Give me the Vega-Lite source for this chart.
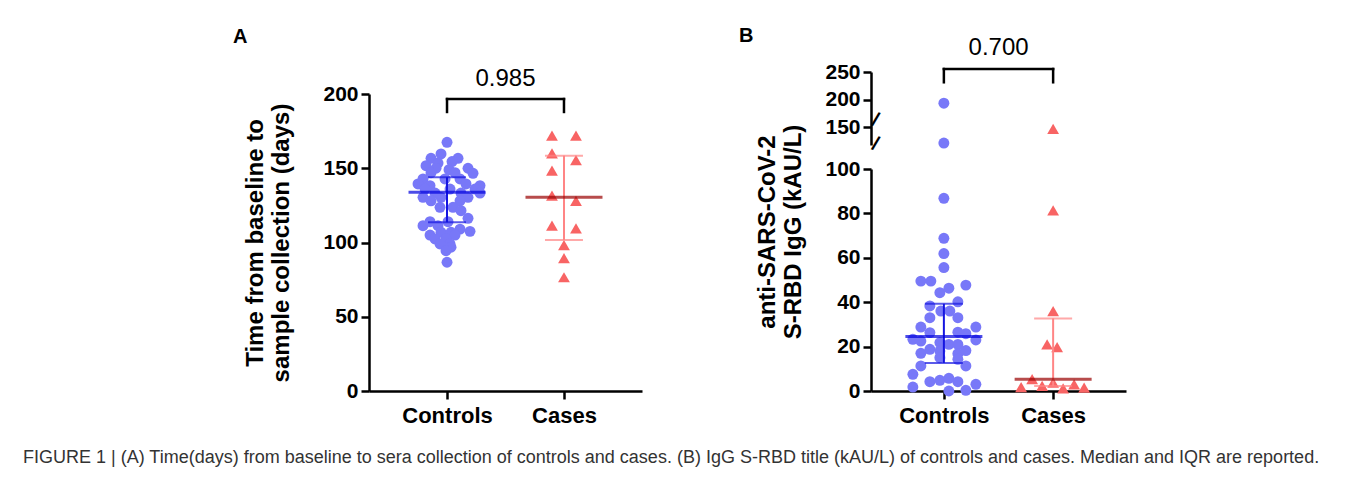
{
  "$schema": "https://vega.github.io/schema/vega-lite/v6.json",
  "background": "white",
  "padding": {"left": 22, "top": 25, "right": 5, "bottom": 5},
  "title": {
    "text": "FIGURE 1 | (A) Time(days) from baseline to sera collection of controls and cases. (B) IgG S-RBD title (kAU/L) of controls and cases. Median and IQR are reported.",
    "orient": "bottom", "anchor": "start", "dx": -210, "offset": 23,
    "fontSize": 18, "fontWeight": "normal", "font": "Liberation Sans", "color": "#333333", "baseline": "top"
  },
  "config": {
    "view": {"stroke": null},
    "font": "Liberation Sans",
    "axis": {
      "domainColor": "black", "domainWidth": 2.5, "tickColor": "black", "tickWidth": 2.5, "tickSize": 8,
      "labelFont": "Liberation Sans", "labelFontWeight": "bold", "labelFontSize": 21, "labelColor": "black", "labelPadding": 3, "labelOverlap": false,
      "titleFont": "Liberation Sans", "titleFontWeight": "bold", "titleFontSize": 24, "titleColor": "black", "grid": false
    },
    "axisX": {"labelAngle": 0, "labelFontSize": 22, "labelPadding": 6, "title": null}
  },
  "datasets": {
    "ptsA": [
      {"group": "Controls", "value": 167.5, "jitter": 0},
      {"group": "Controls", "value": 159.6, "jitter": -0.6},
      {"group": "Controls", "value": 156.7, "jitter": -1.6},
      {"group": "Controls", "value": 156.7, "jitter": 1.1},
      {"group": "Controls", "value": 154.5, "jitter": 0.5},
      {"group": "Controls", "value": 153.5, "jitter": -0.9},
      {"group": "Controls", "value": 151.7, "jitter": -2.1},
      {"group": "Controls", "value": 150, "jitter": -1.1},
      {"group": "Controls", "value": 150, "jitter": 2.1},
      {"group": "Controls", "value": 149, "jitter": 0.2},
      {"group": "Controls", "value": 147, "jitter": -1.6},
      {"group": "Controls", "value": 147, "jitter": 0.8},
      {"group": "Controls", "value": 146.6, "jitter": 2.6},
      {"group": "Controls", "value": 142.8, "jitter": -2.4},
      {"group": "Controls", "value": 142.8, "jitter": -0.2},
      {"group": "Controls", "value": 142.8, "jitter": 1.3},
      {"group": "Controls", "value": 139.4, "jitter": -2.9},
      {"group": "Controls", "value": 139.4, "jitter": 1.9},
      {"group": "Controls", "value": 138.3, "jitter": -1.7},
      {"group": "Controls", "value": 138.3, "jitter": 3.3},
      {"group": "Controls", "value": 136, "jitter": -2.2},
      {"group": "Controls", "value": 136, "jitter": 0.3},
      {"group": "Controls", "value": 136, "jitter": 2.8},
      {"group": "Controls", "value": 133.3, "jitter": -1.2},
      {"group": "Controls", "value": 133.3, "jitter": 1.4},
      {"group": "Controls", "value": 133.3, "jitter": 3.3},
      {"group": "Controls", "value": 130.4, "jitter": -2.4},
      {"group": "Controls", "value": 130.4, "jitter": -0.6},
      {"group": "Controls", "value": 130.4, "jitter": 2.1},
      {"group": "Controls", "value": 128.1, "jitter": -1.6},
      {"group": "Controls", "value": 128.1, "jitter": 1.3},
      {"group": "Controls", "value": 123.7, "jitter": -0.7},
      {"group": "Controls", "value": 123.7, "jitter": 0.6},
      {"group": "Controls", "value": 121.4, "jitter": 1.4},
      {"group": "Controls", "value": 116.3, "jitter": 2.1},
      {"group": "Controls", "value": 114, "jitter": -1.7},
      {"group": "Controls", "value": 114, "jitter": 0.1},
      {"group": "Controls", "value": 111.3, "jitter": -2.4},
      {"group": "Controls", "value": 111.3, "jitter": -0.9},
      {"group": "Controls", "value": 109, "jitter": 1.3},
      {"group": "Controls", "value": 107.5, "jitter": 2.3},
      {"group": "Controls", "value": 106.9, "jitter": -0.6},
      {"group": "Controls", "value": 106.9, "jitter": 0.4},
      {"group": "Controls", "value": 105, "jitter": -1.7},
      {"group": "Controls", "value": 105, "jitter": 0.8},
      {"group": "Controls", "value": 102.4, "jitter": -1.2},
      {"group": "Controls", "value": 102.4, "jitter": -0.1},
      {"group": "Controls", "value": 99, "jitter": 0.3},
      {"group": "Controls", "value": 99, "jitter": -0.7},
      {"group": "Controls", "value": 96.8, "jitter": 0.4},
      {"group": "Controls", "value": 94.5, "jitter": -0.1},
      {"group": "Controls", "value": 86.7, "jitter": 0},
      {"group": "Cases", "value": 172, "jitter": -1.2},
      {"group": "Cases", "value": 172, "jitter": 1.2},
      {"group": "Cases", "value": 160, "jitter": -1.2},
      {"group": "Cases", "value": 155.5, "jitter": 1.2},
      {"group": "Cases", "value": 148.4, "jitter": -1.2},
      {"group": "Cases", "value": 131.5, "jitter": -1.2},
      {"group": "Cases", "value": 128.1, "jitter": 1.2},
      {"group": "Cases", "value": 111.3, "jitter": -1.2},
      {"group": "Cases", "value": 109.5, "jitter": 1.2},
      {"group": "Cases", "value": 98.3, "jitter": 0},
      {"group": "Cases", "value": 89.4, "jitter": 0},
      {"group": "Cases", "value": 76.6, "jitter": 0}
    ],
    "statsA": [
      {"group": "Controls", "median": 133.8, "q1": 113.6, "q3": 144},
      {"group": "Cases", "median": 130.4, "q1": 101.7, "q3": 158.5}
    ],
    "ptsB": [
      {"group": "Controls", "value": 193.6, "jitter": 0},
      {"group": "Controls", "value": 121.5, "jitter": 0},
      {"group": "Controls", "value": 86.8, "jitter": 0},
      {"group": "Controls", "value": 68.8, "jitter": 0},
      {"group": "Controls", "value": 61.9, "jitter": 0},
      {"group": "Controls", "value": 55.6, "jitter": 0},
      {"group": "Controls", "value": 49.5, "jitter": -2.3},
      {"group": "Controls", "value": 49.5, "jitter": -1.3},
      {"group": "Controls", "value": 47.7, "jitter": 2.2},
      {"group": "Controls", "value": 46.3, "jitter": 0.5},
      {"group": "Controls", "value": 44.3, "jitter": -0.4},
      {"group": "Controls", "value": 40.2, "jitter": 1.4},
      {"group": "Controls", "value": 38.3, "jitter": -1.4},
      {"group": "Controls", "value": 36, "jitter": -0.3},
      {"group": "Controls", "value": 36, "jitter": 0.6},
      {"group": "Controls", "value": 33, "jitter": -1.4},
      {"group": "Controls", "value": 33, "jitter": 1.4},
      {"group": "Controls", "value": 28.8, "jitter": -2.3},
      {"group": "Controls", "value": 28.8, "jitter": 3.2},
      {"group": "Controls", "value": 26.3, "jitter": -1.4},
      {"group": "Controls", "value": 26.5, "jitter": 1.4},
      {"group": "Controls", "value": 25.8, "jitter": 2.2},
      {"group": "Controls", "value": 23.3, "jitter": -3.1},
      {"group": "Controls", "value": 22.5, "jitter": -2.3},
      {"group": "Controls", "value": 21.8, "jitter": -0.4},
      {"group": "Controls", "value": 21, "jitter": 0.5},
      {"group": "Controls", "value": 21, "jitter": 1.4},
      {"group": "Controls", "value": 23, "jitter": 3.2},
      {"group": "Controls", "value": 18.8, "jitter": -1.4},
      {"group": "Controls", "value": 18, "jitter": -0.4},
      {"group": "Controls", "value": 16.8, "jitter": 1.4},
      {"group": "Controls", "value": 18.2, "jitter": 2.2},
      {"group": "Controls", "value": 17, "jitter": -2.3},
      {"group": "Controls", "value": 15, "jitter": -0.4},
      {"group": "Controls", "value": 14.3, "jitter": 1.4},
      {"group": "Controls", "value": 11.3, "jitter": -2.3},
      {"group": "Controls", "value": 11.3, "jitter": 2.2},
      {"group": "Controls", "value": 7.5, "jitter": -3.1},
      {"group": "Controls", "value": 4.2, "jitter": -1.4},
      {"group": "Controls", "value": 4.8, "jitter": -0.4},
      {"group": "Controls", "value": 5.7, "jitter": 0.5},
      {"group": "Controls", "value": 4.2, "jitter": 1.4},
      {"group": "Controls", "value": 3, "jitter": 3.2},
      {"group": "Controls", "value": 1.8, "jitter": -3.1},
      {"group": "Controls", "value": 0, "jitter": 0.5},
      {"group": "Controls", "value": 0.3, "jitter": 2.2},
      {"group": "Cases", "value": 147, "jitter": 0},
      {"group": "Cases", "value": 81.4, "jitter": 0},
      {"group": "Cases", "value": 36, "jitter": 0},
      {"group": "Cases", "value": 21, "jitter": -0.6},
      {"group": "Cases", "value": 19.8, "jitter": 0.4},
      {"group": "Cases", "value": 5.3, "jitter": -2.1},
      {"group": "Cases", "value": 1.8, "jitter": -3.2},
      {"group": "Cases", "value": 2.3, "jitter": -1.1},
      {"group": "Cases", "value": 3.8, "jitter": 0},
      {"group": "Cases", "value": 1.2, "jitter": 1},
      {"group": "Cases", "value": 3, "jitter": 2.1},
      {"group": "Cases", "value": 1.5, "jitter": 3.1}
    ],
    "statsB": [
      {"group": "Controls", "median": 24.6, "q1": 12.6, "q3": 39.3},
      {"group": "Cases", "median": 5.3, "q1": 2.2, "q3": 32.7}
    ]
  },
  "spacing": 96,
  "hconcat": [
    {
      "width": 273,
      "height": 319,
      "title": {"text": "A", "anchor": "start", "fontSize": 20, "fontWeight": "bold", "color": "black", "offset": 4, "dx": -11, "baseline": "alphabetic"},
      "layer": [
        {
          "data": {"name": "ptsA"},
          "mark": {"type": "point", "filled": true, "opacity": 1, "strokeWidth": 0},
          "encoding": {
            "x": {"field": "group", "type": "nominal", "scale": {"type": "point", "domain": ["Controls", "Cases"], "padding": 0.667}, "axis": {"title": null}},
            "xOffset": {"field": "jitter", "type": "quantitative", "scale": {"domain": [-4, 4], "range": [-40, 40]}},
            "y": {"field": "value", "type": "quantitative", "scale": {"domain": [0, 200], "range": [319, 22], "nice": false}, "axis": {"values": [0, 50, 100, 150, 200], "tickCount": 20, "labelOverlap": false, "title": ["Time from baseline to", "sample collection (days)"], "titlePadding": 29}},
            "shape": {"field": "group", "type": "nominal", "scale": {"domain": ["Controls", "Cases"], "range": ["circle", "triangle-up"]}, "legend": null},
            "color": {"field": "group", "type": "nominal", "scale": {"domain": ["Controls", "Cases"], "range": ["#7878f8", "#f86464"]}, "legend": null},
            "size": {"condition": {"test": "datum.group === 'Cases'", "value": 140}, "value": 120}
          }
        },
        {
          "data": {"name": "statsA"},
          "mark": {"type": "rule", "strokeWidth": 2},
          "encoding": {
            "x": {"field": "group", "type": "nominal"},
            "y": {"field": "q1", "type": "quantitative"},
            "y2": {"field": "q3"},
            "color": {"condition": {"test": "datum.group === 'Controls'", "value": "#1515e0"}, "value": "#ff8585"}
          }
        },
        {
          "data": {"name": "statsA"},
          "mark": {"type": "tick", "size": 38, "thickness": 2},
          "encoding": {
            "x": {"field": "group", "type": "nominal"},
            "y": {"field": "q1", "type": "quantitative"},
            "color": {"condition": {"test": "datum.group === 'Controls'", "value": "#1515e0"}, "value": "#ff8585"}
          }
        },
        {
          "data": {"name": "statsA"},
          "mark": {"type": "tick", "size": 38, "thickness": 2},
          "encoding": {
            "x": {"field": "group", "type": "nominal"},
            "y": {"field": "q3", "type": "quantitative"},
            "color": {"condition": {"test": "datum.group === 'Controls'", "value": "#1515e0"}, "value": "#ff8585"}
          }
        },
        {
          "data": {"name": "statsA"},
          "mark": {"type": "tick", "size": 77, "thickness": 3},
          "encoding": {
            "x": {"field": "group", "type": "nominal"},
            "y": {"field": "median", "type": "quantitative"},
            "color": {"condition": {"test": "datum.group === 'Controls'", "value": "#0000dd"}, "value": "#990000"}
          }
        },
        {
          "data": {"values": [{"p": "0.985"}]},
          "mark": {"type": "rule", "strokeWidth": 2.5, "color": "black", "strokeCap": "square"},
          "encoding": {"x": {"datum": "Controls"}, "x2": {"datum": "Cases"}, "y": {"datum": 196.6}}
        },
        {
          "data": {"values": [{"group": "Controls"}, {"group": "Cases"}]},
          "mark": {"type": "rule", "strokeWidth": 2.5, "color": "black", "strokeCap": "square"},
          "encoding": {"x": {"field": "group", "type": "nominal"}, "y": {"datum": 187.9}, "y2": {"datum": 196.6}}
        },
        {
          "data": {"values": [{"p": "0.985"}]},
          "mark": {"type": "text", "dx": 58.5, "baseline": "alphabetic", "fontSize": 24, "fontWeight": "normal", "color": "black"},
          "encoding": {"x": {"datum": "Controls"}, "y": {"datum": 205.6}, "text": {"field": "p"}}
        }
      ]
    },
    {
      "width": 255,
      "height": 319,
      "title": {"text": "B", "anchor": "start", "fontSize": 20, "fontWeight": "bold", "color": "black", "offset": -26, "dx": -17, "baseline": "alphabetic"},
      "layer": [
        {
          "data": {"name": "ptsB"},
          "mark": {"type": "point", "filled": true, "opacity": 1, "strokeWidth": 0},
          "encoding": {
            "x": {"field": "group", "type": "nominal", "scale": {"type": "point", "domain": ["Controls", "Cases"], "padding": 0.667}, "axis": {"title": null}},
            "xOffset": {"field": "jitter", "type": "quantitative", "scale": {"domain": [-4, 4], "range": [-40, 40]}},
            "y": {"field": "value", "type": "quantitative", "scale": {"domain": [0, 100, 118, 250], "range": [319, 97, 73, 0], "nice": false}, "axis": {"values": [0, 20, 40, 60, 80, 100, 150, 200, 250], "tickCount": 20, "labelOverlap": false, "labelSeparation": 0, "labelFlush": false, "title": ["anti-SARS-CoV-2", "S-RBD IgG (kAU/L)"], "titlePadding": 19, "domainDash": [222, 24, 400]}},
            "shape": {"field": "group", "type": "nominal", "scale": {"domain": ["Controls", "Cases"], "range": ["circle", "triangle-up"]}, "legend": null},
            "color": {"field": "group", "type": "nominal", "scale": {"domain": ["Controls", "Cases"], "range": ["#7878f8", "#f86464"]}, "legend": null},
            "size": {"condition": {"test": "datum.group === 'Cases'", "value": 140}, "value": 120}
          }
        },
        {
          "data": {"name": "statsB"},
          "mark": {"type": "rule", "strokeWidth": 2},
          "encoding": {
            "x": {"field": "group", "type": "nominal"},
            "y": {"field": "q1", "type": "quantitative"},
            "y2": {"field": "q3"},
            "color": {"condition": {"test": "datum.group === 'Controls'", "value": "#1515e0"}, "value": "#ff8585"}
          }
        },
        {
          "data": {"name": "statsB"},
          "mark": {"type": "tick", "size": 38, "thickness": 2},
          "encoding": {
            "x": {"field": "group", "type": "nominal"},
            "y": {"field": "q1", "type": "quantitative"},
            "color": {"condition": {"test": "datum.group === 'Controls'", "value": "#1515e0"}, "value": "#ff8585"}
          }
        },
        {
          "data": {"name": "statsB"},
          "mark": {"type": "tick", "size": 38, "thickness": 2},
          "encoding": {
            "x": {"field": "group", "type": "nominal"},
            "y": {"field": "q3", "type": "quantitative"},
            "color": {"condition": {"test": "datum.group === 'Controls'", "value": "#1515e0"}, "value": "#ff8585"}
          }
        },
        {
          "data": {"name": "statsB"},
          "mark": {"type": "tick", "size": 77, "thickness": 3},
          "encoding": {
            "x": {"field": "group", "type": "nominal"},
            "y": {"field": "median", "type": "quantitative"},
            "color": {"condition": {"test": "datum.group === 'Controls'", "value": "#0000dd"}, "value": "#990000"}
          }
        },
        {
          "data": {"values": [{"p": "0.700"}]},
          "mark": {"type": "rule", "strokeWidth": 2.5, "color": "black", "strokeCap": "square"},
          "encoding": {"x": {"datum": "Controls"}, "x2": {"datum": "Cases"}, "y": {"datum": 255.4}}
        },
        {
          "data": {"values": [{"group": "Controls"}, {"group": "Cases"}]},
          "mark": {"type": "rule", "strokeWidth": 2.5, "color": "black", "strokeCap": "square"},
          "encoding": {"x": {"field": "group", "type": "nominal"}, "y": {"datum": 231.4}, "y2": {"datum": 255.4}}
        },
        {
          "data": {"values": [{"p": "0.700"}]},
          "mark": {"type": "text", "dx": 54.7, "baseline": "alphabetic", "fontSize": 24, "fontWeight": "normal", "color": "black"},
          "encoding": {"x": {"datum": "Controls"}, "y": {"datum": 281.6}, "text": {"field": "p"}}
        },
        {
          "data": {"values": [{"brk": 118, "s": "/"}, {"brk": 100, "s": "/"}]},
          "mark": {"type": "text", "dx": -72.9, "baseline": "middle", "align": "center", "fontSize": 20, "fontWeight": "bold", "color": "black", "angle": 20},
          "encoding": {"x": {"datum": "Controls"}, "y": {"field": "brk", "type": "quantitative"}, "text": {"field": "s"}}
        }
      ]
    }
  ]
}
